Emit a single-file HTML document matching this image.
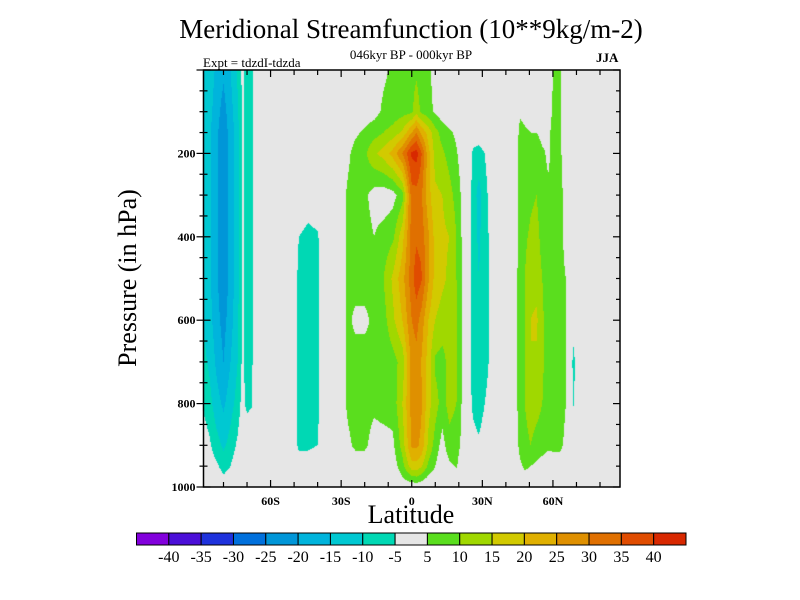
<!DOCTYPE html>
<html><head><meta charset="utf-8">
<style>
body{margin:0;background:#fff;}
#wrap{position:relative;width:800px;height:600px;overflow:hidden;font-family:"Liberation Serif",serif;}
.t{position:absolute;white-space:nowrap;color:#000;}
</style></head>
<body>
<div id="wrap">
<div class="t" style="left:0;width:822px;text-align:center;top:14px;font-size:27px;">Meridional Streamfunction (10**9kg/m-2)</div>
<div class="t" style="left:0;width:822px;text-align:center;top:47px;font-size:13px;">046kyr BP - 000kyr BP</div>
<div class="t" style="left:203px;top:55px;font-size:13px;">Expt = tdzdI-tdzda</div>
<div class="t" style="left:596px;top:50px;font-size:13px;font-weight:bold;">JJA</div>
<div class="t" style="left:128px;top:278px;font-size:26px;transform:translate(-50%,-50%) rotate(-90deg);">Pressure (in hPa)</div>
<div class="t" style="left:0;width:822px;text-align:center;top:500px;font-size:26px;">Latitude</div>
<canvas id="cv" width="800" height="600" style="position:absolute;left:0;top:0;"></canvas>
<svg id="sv" width="800" height="600" style="position:absolute;left:0;top:0;"></svg>
</div>
<script>
const pLevels=[0,100,150,200,300,400,500,600,700,800,900,950,1000];
const lats=[-90,-86,-83,-80,-77,-74,-72,-70,-68,-66,-52,-48,-44,-40,-36,-30,-27,-24,-20,-16,-12,-8,-4,0,2,4,7,10,13,16,19,22,24,26,28.5,31,33.5,37,42,44.5,46,48,50.5,53,55.5,58,60.5,63,65.5,67.5,68.8,70,90];
const Z=[0,0,0,0,0,0,0,0,0,0,0,0,0];
const fieldValues=[
[-9,-10,-10,-10,-10,-10,-10,-9,-7,-4,-2,-1,0],
[-12,-13,-14,-14,-14,-14,-14,-13,-11,-8,-4,-2,0],
[-16,-18,-19,-19,-19,-19,-19,-18,-16,-13,-8,-4,0],
[-19,-22,-23,-23,-23,-24,-24,-22,-20,-16,-11,-7,-2],
[-15,-17,-18,-18,-18,-18,-18,-17,-15,-12,-8,-5,-1],
[-9,-11,-12,-12,-12,-12,-12,-11,-10,-8,-4,-1,0],
[-4,-4,-4,-4,-4,-4,-4,-4,-4,-3,-1,0,0],
[-7,-7,-7,-7,-7,-7,-7,-7,-7,-6.5,0,0,0],
[-6,-6,-6,-6,-6,-6,-6,-6,-6,-5.5,0,0,0],
Z,Z,
[0,0,0,0,-2,-5,-6,-6,-6,-6,-6,-2,0],
[0,0,0,0,-3,-6,-7,-7,-7,-7,-6,-2,0],
[0,0,0,0,-2,-5.5,-6,-6,-6,-6,-5,-1,0],
Z,
[0,0,0,2,3,3,3,3,3,3,2,0,0],
[0,0,2,4,6,6,6,6,6,6,4,1,0],
[0,0,4,7,8,7,7,4,7,7,6,2,0],
[1,2,6,9,6,7,7,4,7,7,6,2,0],
[2,3,8,14,3,5,7,6,6,6,3,1,0],
[4,6,10,17,2,7,10,8,6,7,3,1,0],
[6,7,12,22,3,9,16,14,8,7,4,2,0],
[7,8,16,30,8,18,23,20,12,15,12,8,2],
[8,9,25,41,33,32,33,30,27,27,26,18,1],
[9,13,30,42,33,34,38,32,28,27,26,18,2],
[7,9,24,36,31,33,36,28,25,26,24,16,1],
[6,7,18,22,22,26,26,20,18,17,14,9,0],
[3,4,12,13,16,18,18,15,9,12,8,5,0],
[0,2,8,11,15,16,16,13,8,8,3,1,0],
[0,0,6,8,12,15,14,13,12,12,8,4,0],
[0,0,4,5.5,8,10,10,11,11,10,7,5.5,0],
[0,0,1,2,3,3,3,3,3,3,3,1,0],
[0,0,0,0,-2,-3,-3,-3,-3,-2,0,0,0],
[0,0,-2,-6,-7,-7,-7,-7,-7,-6,-3,0,0],
[0,0,-2,-7,-12,-11,-10,-9,-9,-8,-4,0,0],
[0,0,-1,-5,-7,-7,-7,-7,-7,-5,-2,0,0],
[0,0,0,-2,-3,-4,-4,-4,-4,-3,0,0,0],
Z,Z,
[0,0,2,3,3,3,4,4,4,4,3,0,0],
[0,4,7,8,8,8,8,8,8,8,7,4,0],
[0,3,6,7,7,9,10,10,10,10,8,6,1],
[0,2,5,8,9,11,13,15,15,13,10,5,2],
[0,1,5,9,10,12,13,16,14,12,8,4,1],
[0,0,3,6,7,8,10,11,11,10,7,3,0],
[0,2,4,4,6,6,6,7,7,7,6,2,0],
[6,7,7,7,7,7,7,7,7,7,6,3,0],
[6,6,6,6,6,6,6,7,7,7,6,3,0],
[0,0,1,2,4,4,5,5,5,5,4,1,0],
[0,0,0,0,0,0,0,-1,-2,-2,0,0,0],
[0,0,0,0,0,0,0,-2,-7,-5.5,0,0,0],
[0,0,0,0,0,0,0,-1,-2,-2,0,0,0],
Z];
const levels=[-40,-35,-30,-25,-20,-15,-10,-5,5,10,15,20,25,30,35,40];
const levelLabels=["-40","-35","-30","-25","-20","-15","-10","-5","5","10","15","20","25","30","35","40"];
const colors=['#8200dc','#4b0fd8','#1e32dc','#0070dc','#0096d8','#00b4dc','#00c8d2','#00d8b4','#e6e6e6','#5ade1e','#a0d800','#d2ca00','#e0b000','#df9000','#e07000','#e04c00','#d82800'];
const yTicks=[200,400,600,800,1000];
const xTicks=[-60,-30,0,30,60];
const xTickLabels=["60S","30S","0","30N","60N"];

const L=203.5,R=620,T=70,B=487,LAT0=-88.5,LAT1=88.5,P0=0,P1=1000;
const xs=lat=>L+(lat-LAT0)/(LAT1-LAT0)*(R-L);
const ys=p=>T+(p-P0)/(P1-P0)*(B-T);
const latOf=x=>LAT0+(x-L)/(R-L)*(LAT1-LAT0);
const pOf=y=>P0+(y-T)/(B-T)*(P1-P0);
function seg(arr,v){let i=0;while(i<arr.length-2&&arr[i+1]<v)i++;let f=(v-arr[i])/(arr[i+1]-arr[i]);return [i,Math.max(0,Math.min(1,f))];}
function val(lat,p){const [i,fx]=seg(lats,lat);const [j,fy]=seg(pLevels,p);
 const a=fieldValues[i][j],b=fieldValues[i+1][j],c=fieldValues[i][j+1],d=fieldValues[i+1][j+1];
 return (a*(1-fx)+b*fx)*(1-fy)+(c*(1-fx)+d*fx)*fy;}
function colorOf(v){let k=0;while(k<levels.length&&v>=levels[k])k++;return colors[k];}
const cv=document.getElementById('cv'),ctx=cv.getContext('2d');
for(let y=Math.floor(T);y<B;y++){for(let x=Math.floor(L);x<R;x++){
 ctx.fillStyle=colorOf(val(latOf(x+0.5),pOf(y+0.5)));ctx.fillRect(x,y,1,1);}}

const NS='http://www.w3.org/2000/svg',sv=document.getElementById('sv');
function mk(tag,at){const e=document.createElementNS(NS,tag);for(const k in at)e.setAttribute(k,at[k]);sv.appendChild(e);return e;}
const frame=mk('rect',{x:L,y:T,width:R-L,height:B-T,fill:'none',stroke:'#000','stroke-width':1.5});


for(let p=0;p<=1000;p+=50){const y=ys(p),maj=p%200===0;const len=maj?7:4;
 mk('line',{x1:L-len,x2:L+len,y1:y,y2:y,stroke:'#000','stroke-width':1.2});
 mk('line',{x1:R-len,x2:R,y1:y,y2:y,stroke:'#000','stroke-width':1.2});}
yTicks.forEach(p=>{const t=mk('text',{x:L-8,y:ys(p)+4,'text-anchor':'end','font-size':12,'font-weight':'bold','font-family':'Liberation Serif, serif'});t.textContent=p;
 
 });
for(let lat=-80;lat<=80;lat+=10){const x=xs(lat),maj=lat%30===0;const len=maj?7:5;
 mk('line',{x1:x,x2:x,y1:B,y2:B-len,stroke:'#000','stroke-width':1.2});
 mk('line',{x1:x,x2:x,y1:T,y2:T+len,stroke:'#000','stroke-width':1.2});}
xTicks.forEach((lat,i)=>{const t=mk('text',{x:xs(lat),y:B+18,'text-anchor':'middle','font-size':12,'font-weight':'bold','font-family':'Liberation Serif, serif'});t.textContent=xTickLabels[i];
 
 });
const cbL=136.5,cbR=686,cbT=533,cbH=12,bw=(cbR-cbL)/colors.length;
colors.forEach((c,i)=>{const r=mk('rect',{x:cbL+i*bw,y:cbT,width:bw,height:cbH,fill:c,stroke:'#000','stroke-width':1});
 
 });
levelLabels.forEach((s,i)=>{const t=mk('text',{x:cbL+(i+1)*bw,y:cbT+29,'text-anchor':'middle','font-size':16,'font-family':'Liberation Serif, serif'});t.textContent=s;
 
 });
</script>
</body></html>
